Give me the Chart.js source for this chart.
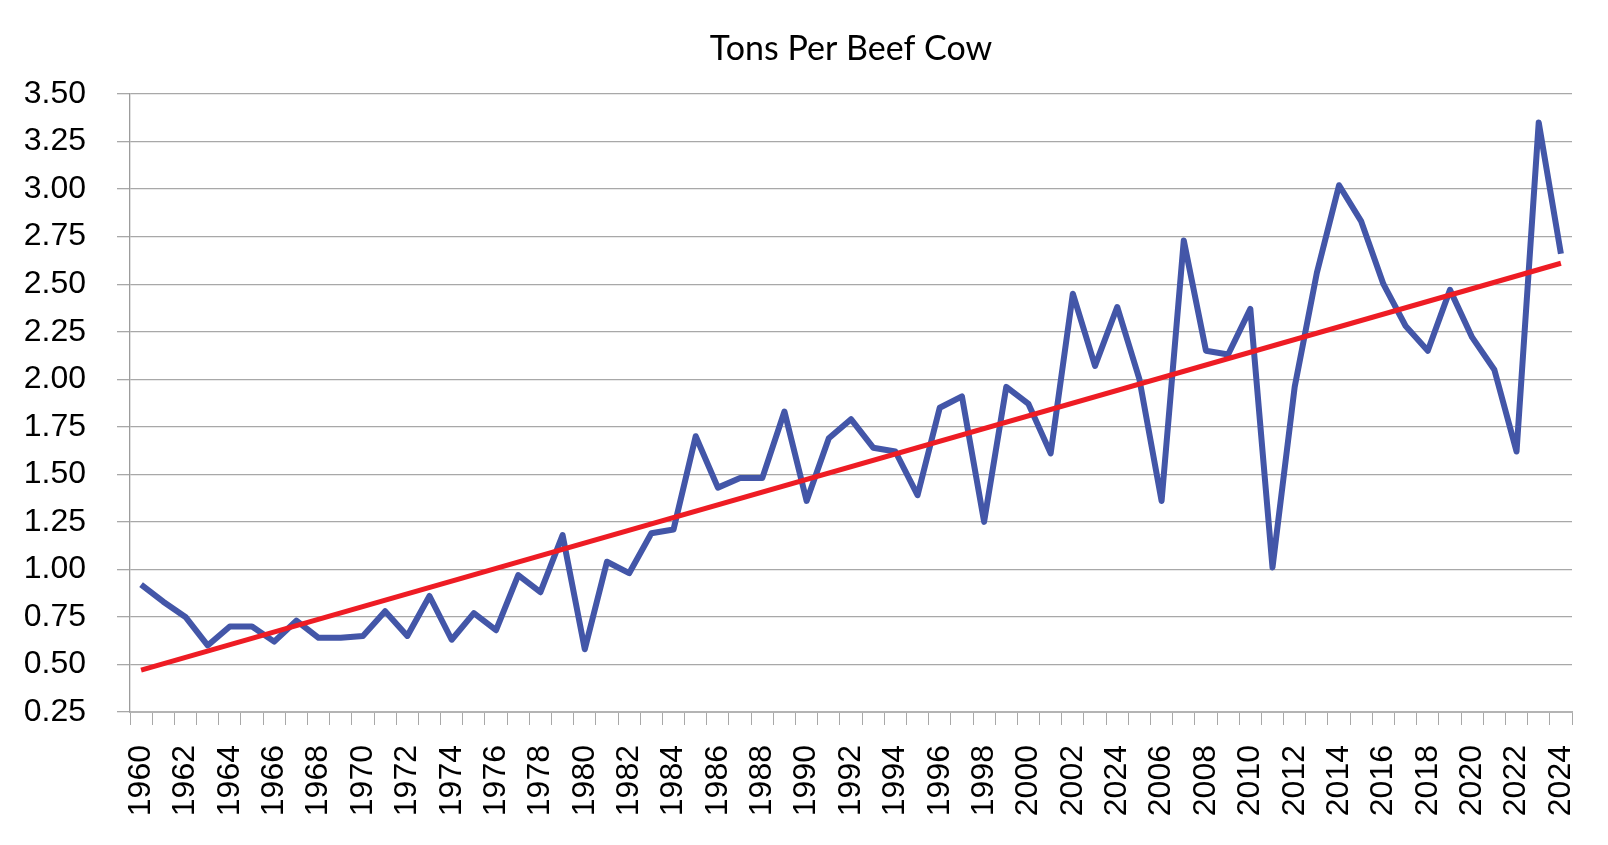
<!DOCTYPE html>
<html>
<head>
<meta charset="utf-8">
<title>Tons Per Beef Cow</title>
<script src="https://cdn.jsdelivr.net/npm/chart.js@4.4.1/dist/chart.umd.min.js"></script>
<style>
  html, body { margin: 0; padding: 0; background: #fff; }
  #wrap { width: 1608px; height: 845px; position: relative; }
</style>
</head>
<body>
<div id="wrap"><canvas id="myChart"></canvas></div>
<script>
const years = [
  '1960','1961','1962','1963','1964','1965','1966','1967','1968','1969',
  '1970','1971','1972','1973','1974','1975','1976','1977','1978','1979',
  '1980','1981','1982','1983','1984','1985','1986','1987','1988','1989',
  '1990','1991','1992','1993','1994','1995','1996','1997','1998','1999',
  '2000','2001','2002','2003','2004','2005','2006','2007','2008','2009',
  '2010','2011','2012','2013','2014','2015','2016','2017','2018','2019',
  '2020','2021','2022','2023','2024'
];

// tons per beef cow, one value per year
const tonsPerCow = [
  0.92, 0.83, 0.75, 0.60, 0.70, 0.70, 0.62, 0.73, 0.64, 0.64,
  0.65, 0.78, 0.65, 0.86, 0.63, 0.77, 0.68, 0.97, 0.88, 1.18,
  0.58, 1.04, 0.98, 1.19, 1.21, 1.70, 1.43, 1.48, 1.48, 1.83,
  1.36, 1.69, 1.79, 1.64, 1.62, 1.39, 1.85, 1.91, 1.25, 1.96,
  1.87, 1.61, 2.45, 2.07, 2.38, 2.00, 1.36, 2.73, 2.15, 2.13,
  2.37, 1.01, 1.96, 2.56, 3.02, 2.83, 2.50, 2.28, 2.15, 2.47,
  2.22, 2.05, 1.62, 3.35, 2.66
];

// trend line end points
const trendYears = ['1960', '2024'];
const trendValues = [0.47, 2.61];

// labels shown under every second year (the 2004 slot reads "2024" in the original)
const tickLabels = [
  '1960','1962','1964','1966','1968','1970','1972','1974','1976','1978',
  '1980','1982','1984','1986','1988','1990','1992','1994','1996','1998',
  '2000','2002','2024','2006','2008','2010','2012','2014','2016','2018',
  '2020','2022','2024'
];

const yTicks = [0.25, 0.50, 0.75, 1.00, 1.25, 1.50, 1.75, 2.00, 2.25, 2.50, 2.75, 3.00, 3.25, 3.50];

const TITLE = 'Tons Per Beef Cow';
const FONT = "'Liberation Sans', Arial, sans-serif";
const TITLE_FONT = "Lato, 'Open Sans', sans-serif";
const BLUE = '#4356a8';
const RED = '#ee1c24';
const GRID = '#a8a8a8';

// title centred over the plot area, like the original
const plotTitle = {
  id: 'plotTitle',
  afterDraw(chart) {
    const { ctx, chartArea } = chart;
    ctx.save();
    ctx.font = `34px ${TITLE_FONT}`;
    ctx.fillStyle = '#000';
    ctx.textAlign = 'center';
    ctx.textBaseline = 'alphabetic';
    ctx.fillText(TITLE, (chartArea.left + chartArea.right) / 2, 60);
    ctx.restore();
  }
};

const ctx = document.getElementById('myChart');

new Chart(ctx, {
  type: 'line',
  data: {
    labels: years,
    datasets: [
      {
        label: 'Trend',
        data: trendYears.map((y, i) => ({ x: y, y: trendValues[i] })),
        borderColor: RED,
        borderWidth: 5,
        pointRadius: 0,
        tension: 0,
        order: 0,
      },
      {
        label: TITLE,
        data: tonsPerCow,
        borderColor: BLUE,
        borderWidth: 6,
        borderJoinStyle: 'round',
        pointRadius: 0,
        tension: 0,
        order: 1,
      }
    ]
  },
  options: {
    responsive: true,
    maintainAspectRatio: false,
    animation: false,
    layout: { padding: { top: 94, right: 36, left: 0, bottom: 0 } },
    plugins: {
      legend: { display: false },
      title: { display: false },
      tooltip: { enabled: false },
    },
    scales: {
      x: {
        type: 'category',
        offset: true,
        afterFit: (scale) => {
          scale.height = 133;
          scale.paddingLeft = 0;
          scale.paddingRight = 0;
        },
        grid: {
          offset: true,
          drawOnChartArea: false,
          drawTicks: true,
          tickLength: 13,
          color: GRID,
          lineWidth: 1,
        },
        border: { color: '#b4b4b4', width: 2 },
        ticks: {
          autoSkip: false,
          minRotation: 90,
          maxRotation: 90,
          padding: 20,
          color: '#000',
          font: { family: FONT, size: 32 },
          callback: (value, index) => index % 2 === 0 ? tickLabels[index / 2] : '',
        }
      },
      y: {
        min: yTicks[0],
        max: yTicks[yTicks.length - 1],
        afterFit: (scale) => { scale.width = 130; },
        afterBuildTicks: (scale) => { scale.ticks = yTicks.map(v => ({ value: v })); },
        grid: {
          color: GRID,
          lineWidth: 1.3,
          tickLength: 13,
        },
        border: { color: '#9c9c9c', width: 1.3 },
        ticks: {
          padding: 31,
          color: '#000',
          font: { family: FONT, size: 32 },
          callback: (value) => Number(value).toFixed(2),
        }
      }
    }
  },
  plugins: [plotTitle]
});
</script>
</body>
</html>
